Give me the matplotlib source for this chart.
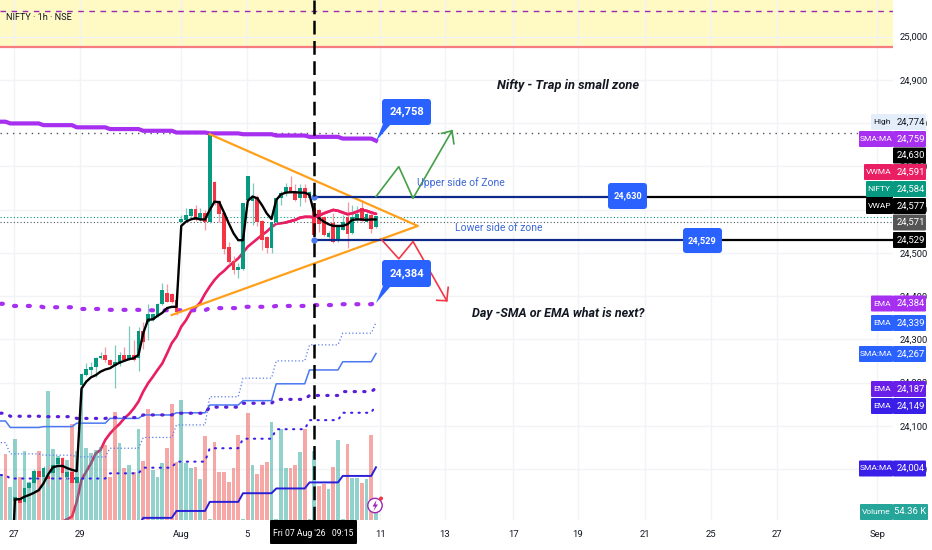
"""NIFTY 1h chart with moving averages, zone lines and annotations."""

import numpy as np
import matplotlib
matplotlib.use("Agg")
import matplotlib.pyplot as plt
from matplotlib.patches import Circle, FancyBboxPatch, Polygon

plt.rcParams["font.family"] = ["Roboto", "DejaVu Sans"]

nan = float("nan")
W, H = 932, 550
PANE_R, PANE_B = 893, 520

# candles, one per hour bar
open_ = [nan, nan, nan, 23925, 23932, 23924, 23955, 23968, 23996, 23982, 23984, 23990, 24011, 24025, 23981, 23992,
         23967, 24194, 24217, 24229, 24235, 24256, 24264, 24252, 24238, 24243, 24264, 24252, 24264, 24256, 24318,
         24341, 24345, 24354, 24382, 24408, 24405, 24391, 24570, 24576, 24586, 24601, 24576, 24591, 24570, 24664,
         24620, 24593, 24514, 24481, 24460, 24462, 24622, 24620, 24630, 24574, 24536, 24510, 24570, 24626, 24637,
         24653, 24641, 24626, 24649, 24627, 24603, 24599, 24583, 24537, 24568, 24527, 24553, 24583, 24545, 24576,
         24604, 24572, 24587, 24560]
close = [nan, nan, nan, 23935, 23922, 23955, 23968, 23996, 23982, 24003, 23976, 24009, 24025, 23990, 23994, 23967,
         23982, 24220, 24231, 24235, 24256, 24261, 24251, 24240, 24248, 24264, 24252, 24264, 24252, 24318, 24294,
         24358, 24358, 24381, 24414, 24387, 24387, 24364, 24578, 24587, 24601, 24576, 24593, 24572, 24772, 24614,
         24589, 24509, 24478, 24460, 24468, 24614, 24677, 24630, 24570, 24530, 24510, 24570, 24626, 24637, 24653,
         24641, 24622, 24649, 24626, 24641, 24540, 24566, 24541, 24545, 24524, 24560, 24570, 24543, 24583, 24589,
         24573, 24589, 24556, 24584]
high = [nan, nan, nan, 23938, 23940, 23959, 23973, 24000, 24007, 24007, 24009, 24015, 24030, 24028, 23996, 23996,
        23984, 24222, 24244, 24248, 24260, 24271, 24281, 24254, 24287, 24271, 24283, 24331, 24298, 24329, 24341,
        24382, 24361, 24383, 24429, 24428, 24406, 24410, 24587, 24603, 24604, 24610, 24604, 24599, 24774, 24666,
        24622, 24595, 24524, 24493, 24476, 24616, 24677, 24662, 24634, 24576, 24538, 24572, 24627, 24642, 24662,
        24678, 24660, 24660, 24660, 24642, 24605, 24601, 24585, 24550, 24591, 24564, 24587, 24618, 24610, 24609,
        24622, 24591, 24595, 24586]
low = [nan, nan, nan, 23900, 23894, 23922, 23951, 23965, 23980, 23978, 23961, 23986, 24007, 23986, 23976, 23954,
       23965, 24160, 24215, 24217, 24212, 24254, 24248, 24238, 24188, 24239, 24250, 24251, 24250, 24227, 24277,
       24298, 24342, 24352, 24379, 24385, 24383, 24356, 24568, 24573, 24583, 24573, 24573, 24553, 24568, 24610,
       24570, 24496, 24475, 24452, 24441, 24460, 24618, 24564, 24562, 24506, 24499, 24499, 24568, 24610, 24632,
       24637, 24620, 24609, 24618, 24625, 24524, 24549, 24539, 24533, 24522, 24524, 24552, 24512, 24543, 24572,
       24571, 24570, 24545, 24558]

# volume in thousands, g/r for bar colour
volume = [299, 449, 224, 551, 292, 469, 258, 326, 469, 354, 877, 483, 435, 415, 408, 653, 469, 884, 490, 456,
          476, 496, 510, 292, 734, 524, 354, 374, 326, 619, 401, 755, 340, 292, 388, 490, 789, 394, 816, 388,
          354, 360, 279, 571, 7, 530, 326, 326, 258, 354, 578, 7, 728, 374, 313, 374, 394, 666, 7, 619,
          354, 354, 374, 462, 619, 7, 469, 231, 245, 211, 360, 544, 7, 517, 286, 286, 252, 279, 578, 54]
volume_dir = ("grggrgggrg" "gggrgrgggg" "ggrrrgrgrg" "rrgggrrrgg"
              "grgrgrrrrr" "rgrgrrrggg" "grrgrggrrg" "rggrggrgrg")

# intraday lines
vwap = [nan, nan, 23700, 23930, 23930, 23936, 23940, 23945, 23951, 23967, 23988, 24004, 24007, 24007, 24002, 23998,
        23995, 24186, 24202, 24212, 24217, 24225, 24230, 24233, 24240, 24246, 24250, 24254, 24256, 24264, 24314,
        24345, 24346, 24354, 24361, 24372, 24375, 24375, 24562, 24572, 24577, 24580, 24577, 24577, 24599, 24618,
        24617, 24593, 24568, 24545, 24529, 24529, 24620, 24630, 24626, 24610, 24591, 24578, 24622, 24635, 24639,
        24640, 24640, 24639, 24639, 24634, 24591, 24580, 24572, 24566, 24562, 24562, 24562, 24566, 24576, 24577,
        24577, 24576, 24577, 24577]
vwma = [nan] * 13 + [23878, 23884, 23890, 23924, 23975, 23994, 24013, 24036, 24044, 24067, 24082, 24094, 24104,
                     24117, 24127, 24140, 24156, 24179, 24198, 24213, 24229, 24244, 24267, 24291, 24306, 24329,
                     24344, 24364, 24373, 24385, 24405, 24422, 24437, 24449, 24458, 24469, 24478, 24487, 24500,
                     24514, 24523, 24532, 24541, 24549, 24559, 24567, 24568, 24570, 24573, 24576, 24581, 24583,
                     24583, 24582, 24586, 24591, 24595, 24599, 24597, 24593, 24589, 24591, 24595, 24599, 24597,
                     24593, 24590]

# daily moving averages, one level per session
day_bars = [2] + [7] * 11 + [1]
sma_purple = [24803, 24799, 24795, 24790, 24786, 24782, 24778, 24776, 24774, 24771, 24768, 24764, 24759]
ema_purple = [24382, 24377, 24374, 24370, 24368, 24367, 24367, 24372, 24375, 24377, 24379, 24381, 24384]
ema_blue = [24061, 24035, 24032, 24028, 24048, 24073, 24102, 24167, 24210, 24250, 24287, 24314, 24339]
sma_blue = [24111, 24096, 24098, 24106, 24117, 24125, 24130, 24148, 24158, 24197, 24229, 24248, 24267]
ema_violet = [24129, 24122, 24121, 24117, 24119, 24125, 24129, 24143, 24152, 24161, 24170, 24179, 24187]
ema_indigo = [23986, 23978, 23978, 23978, 23990, 24003, 24017, 24048, 24070, 24092, 24113, 24130, 24149]
sma_indigo = [nan, nan, nan, nan, 23868, 23887, 23903, 23924, 23944, 23955, 23969, 23984, 24004]

# drawings, bar number and price
tri_x = [36.0, 87.8, 44.0]
tri_y = [24356, 24562, 24774]
up_x = [79.0, 83.8, 86.8, 95.0]
up_y = [24630, 24699, 24626, 24782]
up_head_x = [92.8, 95.0, 95.4]
up_head_y = [24776, 24782, 24752]
down_x = [80.2, 83.8, 86.8, 93.9]
down_y = [24530, 24486, 24526, 24389]
down_head_x = [91.8, 93.9, 94.2]
down_head_y = [24390, 24389, 24420]

upper_zone, lower_zone = 24630, 24529
price_ticks = [24000, 24100, 24200, 24300, 24400, 24500, 24600, 24700, 24800, 24900, 25000]
date_labels = ["27", "29", "Aug", "5", "11", "13", "17", "19", "21", "25", "27", "Sep"]
date_bars = [2.8, 16.7, 37.95, 51.8, 79.9, 93.5, 107.9, 121.5, 135.6, 149.5, 163.4, 184.5]

tag_values = ["24,774", "24,759", "24,630", "24,591", "24,584", "24,577", "24,571", "24,529",
              "24,384", "24,339", "24,267", "24,187", "24,149", "24,004", "54.36 K"]
tag_names = ["High", "SMA:MA", "", "VWMA", "NIFTY", "VWAP", "", "", "EMA", "EMA", "SMA:MA", "EMA", "EMA", "SMA:MA",
             "Volume"]
tag_colors = ["#e4eefa", "#a62ff0", "#000000", "#e91e63", "#089981", "#000000", "#555555", "#000000",
              "#a62ff0", "#2962ff", "#2962ff", "#6a1fe8", "#3a1fe8", "#3a1fe8", "#26a69a"]
tag_rows = [122, 139, 155.5, 172, 189, 206, 222.5, 240, 303.5, 323, 354, 389, 406, 468.5, 512]
tag_lefts = [871, 859, 893, 864, 866, 866, 893, 893, 871, 871, 859, 871, 871, 859, 860]

BAR_PX, BAR_0 = 4.75, 0.75
PRICE_PER_PX = 1 / 0.4325


def y_to_price(py):
    return 25000 - (py - 36.5) * PRICE_PER_PX


xlim = (-BAR_0 / BAR_PX, (PANE_R - BAR_0) / BAR_PX)
ylim = (y_to_price(PANE_B), y_to_price(0))
x = np.arange(80)
rect = [0, 1 - PANE_B / H, PANE_R / W, PANE_B / H]

fig = plt.figure(figsize=(W / 100, H / 100), dpi=100, facecolor="white")

# back pane: grid and the VWMA, which shows through the volume bars
back = fig.add_axes(rect, zorder=1, facecolor="white")
back.set_xlim(xlim)
back.set_ylim(ylim)
back.axis("off")
for p in price_ticks:
    back.axhline(p, color="#f1f3f6", lw=1)
for d in date_bars:
    back.axvline(d, color="#f1f3f6", lw=1)
back.axhspan(y_to_price(46.5), ylim[1], color="#fff9c4", lw=0)
back.plot(x, vwma, color="#e91e63", lw=1.9, solid_capstyle="round")

vol_ax = fig.add_axes(rect, zorder=2)
vol_ax.patch.set_alpha(0)
vol_ax.set_xlim(xlim)
vol_ax.set_ylim(0, PANE_B * 6.8)
vol_ax.axis("off")
vol_ax.bar(x, volume, width=0.8, alpha=0.5,
           color=["#26a69a" if c == "g" else "#ef5350" for c in volume_dir])

ax = fig.add_axes(rect, zorder=3)
ax.patch.set_alpha(0)
ax.set_xlim(xlim)
ax.set_ylim(ylim)
for s in ax.spines.values():
    s.set_visible(False)
ax.yaxis.tick_right()
ax.set_yticks(price_ticks, [f"{p:,}" for p in price_ticks])
ax.set_xticks(date_bars, date_labels)
ax.tick_params(length=0, labelsize=6.8, labelcolor="#131722")
ax.tick_params(axis="y", pad=4.5)
ax.tick_params(axis="x", pad=7)

# upper band and reference levels
ax.axhline(y_to_price(46.5), color="#f77c80", lw=1.6)
ax.axhline(y_to_price(11), color="#9c27b0", lw=1, ls=(0, (4, 4)))
ax.axhline(24776, color="#50535e", lw=1, ls=(0, (1, 3.5)))
ax.axhline(24583, color="#089981", lw=0.8, ls=(0, (1, 2)))
ax.axhline(24570, color="#50535e", lw=0.8, ls=(0, (1, 2)))

# daily averages
ax.plot(x, np.repeat(sma_purple, day_bars), color="#a62ff0", lw=3)
ax.plot(x, np.repeat(ema_purple, day_bars), color="#a62ff0", lw=3, ls=(0, (0.5, 2.8)), dash_capstyle="round")
ax.plot(x, np.repeat(ema_blue, day_bars), color="#5b7ce8", lw=0.9, ls=(0, (1, 1.8)))
ax.plot(x, np.repeat(sma_blue, day_bars), color="#4a78f0", lw=1.1)
ax.plot(x, np.repeat(ema_violet, day_bars), color="#5b1fd8", lw=2.3, ls=(0, (0.4, 2.6)), dash_capstyle="round")
ax.plot(x, np.repeat(ema_indigo, day_bars), color="#3a1fe8", lw=1.5, ls=(0, (0.6, 3)), dash_capstyle="round")
ax.plot(x, np.repeat(sma_indigo, day_bars), color="#2a1fd8", lw=1.4)

# candles
is_up = np.array(close) >= np.array(open_)
colors = np.where(is_up, "#089981", "#f23645")
wick_colors = np.where(is_up, "#7cc9bc", "#f59aa2")
ax.vlines(x, low, high, colors=wick_colors, lw=0.9, zorder=3)
ax.bar(x, np.abs(np.array(close) - np.array(open_)), bottom=np.minimum(open_, close), width=0.8,
       color=colors, zorder=3.1)
ax.plot(x, vwap, color="#000000", lw=1.7, zorder=3.2, solid_capstyle="round")
ax.plot(x[60:], vwma[60:], color="#e91e63", lw=1.9, zorder=3.3, solid_capstyle="round")

# triangle
ax.plot(tri_x, tri_y, color="#ff9f1a", lw=1.6, zorder=4)

# zone lines
ax.hlines(upper_zone, 66, 127.8, color="#0d2a8a", lw=1.6, zorder=4)
ax.hlines(upper_zone, 127.8, xlim[1], color="#000000", lw=1.6, zorder=4)
ax.hlines(lower_zone, 66, 143.6, color="#0d2a8a", lw=1.6, zorder=4)
ax.hlines(lower_zone, 143.6, xlim[1], color="#000000", lw=1.6, zorder=4)
ax.plot([66, 66], [upper_zone, lower_zone], "o", color="#4a78f0", ms=3.5, zorder=4.2)

# path arrows
ax.plot(up_x, up_y, color="#43a047", lw=1.2, zorder=4)
ax.plot(up_head_x, up_head_y, color="#43a047", lw=1.2, zorder=4)
ax.plot(down_x, down_y, color="#f23645", lw=1.2, zorder=4)
ax.plot(down_head_x, down_head_y, color="#f23645", lw=1.2, zorder=4)

# cursor
ax.axvline(66, color="#000000", lw=1.8, ls=(0, (5.5, 2.6)), zorder=4.5)

# overlay in pixel coordinates for labels and tags
ov = fig.add_axes([0, 0, 1, 1], zorder=5)
ov.set_xlim(0, W)
ov.set_ylim(H, 0)
ov.axis("off")
ov.patch.set_alpha(0)

ov.text(6, 18, "NIFTY · 1h · NSE", fontsize=6.6, color="#131722", va="center")
ov.text(497, 86, "Nifty - Trap in small zone", fontsize=9.3, style="italic", weight="bold", va="center",
        color="#131722")
ov.text(472, 313, "Day -SMA or EMA what is next?", fontsize=9, style="italic", weight="bold", va="center",
        color="#131722")
ov.text(417, 183, "Upper side of Zone", fontsize=7.5, color="#3d66d8", va="center")
ov.text(455, 228, "Lower side of zone", fontsize=7.5, color="#3d66d8", va="center")


def blue_box(x0, y0, x1, y1, text, size, tip=None):
    if tip is not None:
        ov.add_patch(Polygon([(x0 + 1, y1 - 1), (x0 + 9, y1 - 1), tip], color="#2962ff", lw=0))
    ov.add_patch(FancyBboxPatch((x0 + 2, y0 + 2), x1 - x0 - 4, y1 - y0 - 4, boxstyle="round,pad=2,rounding_size=3",
                                fc="#2962ff", ec="none"))
    ov.text((x0 + x1) / 2, (y0 + y1) / 2, text, color="white", fontsize=size, weight="bold", ha="center",
            va="center")


blue_box(382, 99, 431, 125, "24,758", 8, tip=(376, 141))
blue_box(382, 260, 431, 287, "24,384", 8, tip=(376, 303))
blue_box(608, 183, 647, 209, "24,630", 6.6)
blue_box(683, 228, 722, 253, "24,529", 6.6)

# price tags on the right
for name, value, color, row, left in zip(tag_names, tag_values, tag_colors, tag_rows, tag_lefts):
    txt = "#131722" if name == "High" else "white"
    right = 928 if name == "Volume" else 926
    ov.add_patch(FancyBboxPatch((893.5, row - 7.5), right - 894, 15, boxstyle="round,pad=0.5,rounding_size=1",
                                fc=color, ec="none"))
    ov.text(910.5, row, value, color=txt, fontsize=6.8, ha="center", va="center")
    if name:
        ov.add_patch(FancyBboxPatch((left + 0.5, row - 7.5), 892 - left, 15,
                                    boxstyle="round,pad=0.5,rounding_size=1", fc=color, ec="none"))
        ov.text((left + 892.5) / 2, row, name, color=txt, fontsize=6, ha="center", va="center")

# time stamp under the cursor
ov.add_patch(FancyBboxPatch((271, 521), 85, 22, boxstyle="round,pad=1,rounding_size=1", fc="black", ec="none"))
ov.text(313.5, 533, "Fri 07 Aug '26   09:15", color="white", fontsize=6.2, ha="center", va="center")

# flash badge
ov.add_patch(Circle((375, 505.5), 7.2, fc="white", ec="#9c27b0", lw=1))
ov.add_patch(Polygon([(376.5, 500), (372.5, 506.5), (375, 506.5), (373.5, 511), (378, 504.5), (375.5, 504.5)],
                     color="#9c27b0", lw=0))
ov.add_patch(Circle((381, 498.5), 2, fc="#f23645", ec="none"))

fig.savefig("out.png", dpi=100)
